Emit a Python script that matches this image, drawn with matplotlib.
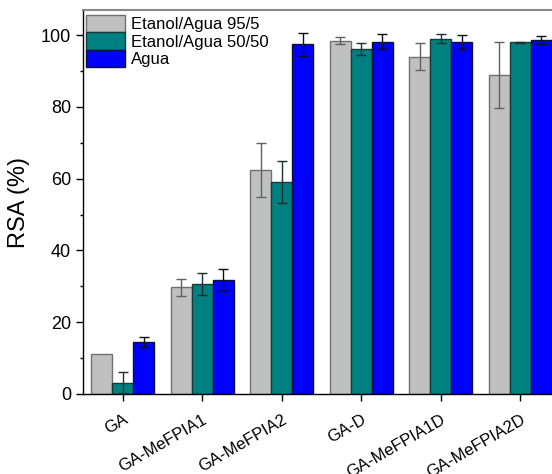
import matplotlib
matplotlib.use("Agg")
import matplotlib.pyplot as plt
import numpy as np
from matplotlib.ticker import MultipleLocator

categories = ["GA", "GA-MeFPIA1", "GA-MeFPIA2", "GA-D", "GA-MeFPIA1D", "GA-MeFPIA2D"]
series_names = ["Etanol/Agua 95/5", "Etanol/Agua 50/50", "Agua"]
etanol_95 = [11.1, 29.7, 62.5, 98.4, 94.0, 88.9]
etanol_95_err = [0.0, 2.4, 7.5, 1.0, 3.7, 9.1]
etanol_50 = [3.2, 30.7, 59.0, 96.1, 99.0, 98.0]
etanol_50_err = [2.8, 3.1, 5.8, 1.6, 1.2, 0.2]
agua = [14.4, 31.8, 97.4, 98.2, 98.1, 98.7]
agua_err = [1.4, 3.1, 3.2, 2.0, 2.0, 1.1]

plt.rcParams['font.family'] = ['Liberation Sans', 'DejaVu Sans']

fig = plt.figure(figsize=(5.52, 4.74), dpi=100)
ax = fig.add_axes([0.1504, 0.1688, 0.864, 0.810])

x = np.arange(1, len(categories) + 1)
w = 0.265
colors = ["#C0C0C0", "#008080", "#0000FF"]
edges = ["#707070", "#1a3a3a", "#101030"]
ecols = ["#606060", "#203030", "#101010"]
data = [(etanol_95, etanol_95_err), (etanol_50, etanol_50_err), (agua, agua_err)]
for i, ((vals, errs), name) in enumerate(zip(data, series_names)):
    pos = x + (i - 1) * w
    ax.bar(pos, vals, width=w, color=colors[i], edgecolor=edges[i], linewidth=1.0,
           label=name, zorder=2)
    errs_arr = np.array(errs)
    mask = errs_arr > 0
    ax.errorbar(pos[mask], np.array(vals)[mask], yerr=errs_arr[mask], fmt='none',
                ecolor=ecols[i], elinewidth=1.0, capsize=3.5, capthick=1.0, zorder=3)

ax.set_xlim(0.5, 6.5)
ax.set_ylim(0, 107)
ax.set_xticks(x)
ax.set_xticklabels(categories, rotation=30, ha='right', rotation_mode='anchor', fontsize=12)
ax.yaxis.set_major_locator(MultipleLocator(20))
ax.yaxis.set_minor_locator(MultipleLocator(10))
ax.tick_params(axis='y', which='major', direction='out', length=5, labelsize=13, width=1)
ax.tick_params(axis='y', which='minor', direction='out', length=2.5, width=1)
ax.tick_params(axis='x', which='major', direction='out', length=5, width=1, pad=8)
ax.set_ylabel("RSA (%)", fontsize=17, labelpad=8)

for s in ['left', 'bottom']:
    ax.spines[s].set_color('black')
    ax.spines[s].set_linewidth(1.0)
ax.spines['top'].set_color('#888888')
ax.spines['top'].set_linewidth(1.5)
ax.spines['right'].set_visible(False)

leg = ax.legend(loc='upper left', bbox_to_anchor=(0.0, 0.995), frameon=False,
                fontsize=12, handlelength=2.3, handleheight=1.2, handletextpad=0.35,
                labelspacing=0.0, borderaxespad=0.1, borderpad=0.1)

fig.savefig("out.png", dpi=100)
